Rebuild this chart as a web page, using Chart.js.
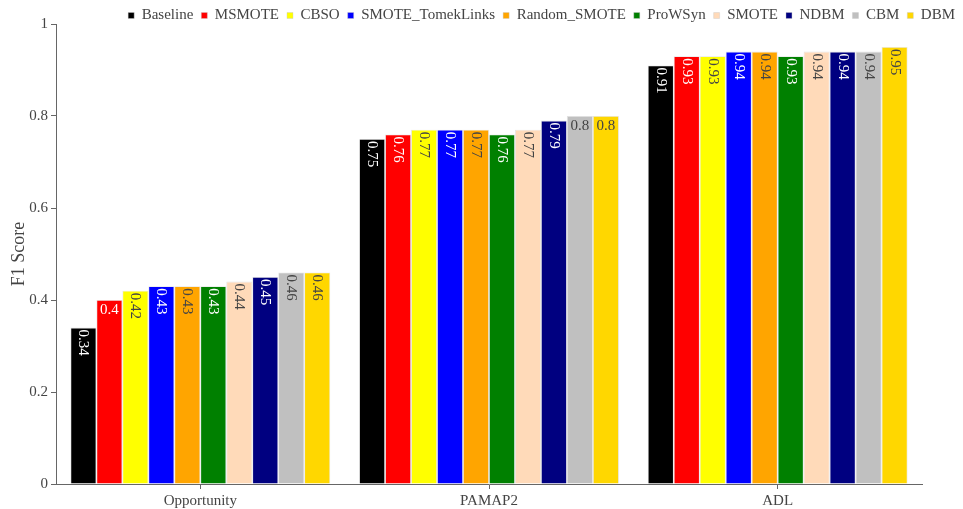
<!DOCTYPE html>
<html>
<head>
<meta charset="utf-8">
<script src="https://cdn.jsdelivr.net/npm/chart.js@4"></script>
<style>
  html, body { margin: 0; padding: 0; background: #fff; }
  #wrap { width: 963px; height: 509px; }
</style>
</head>
<body>
<div id="wrap"><canvas id="myChart"></canvas></div>
<script>
var categorias = ["Opportunity", "PAMAP2", "ADL"]
var metodos = ["Baseline", "MSMOTE", "CBSO", "SMOTE_TomekLinks", "Random_SMOTE", "ProWSyn", "SMOTE", "NDBM", "CBM", "DBM"]
var cores = ["#000000", "#ff0000", "#ffff00", "#0000ff", "#ffa500", "#008000", "#ffdab9", "#000080", "#c0c0c0", "#ffd700"]
var baseline = [0.34, 0.75, 0.91]
var msmote = [0.4, 0.76, 0.93]
var cbso = [0.42, 0.77, 0.93]
var smoteTomek = [0.43, 0.77, 0.94]
var randomSmote = [0.43, 0.77, 0.94]
var prowsyn = [0.43, 0.76, 0.93]
var smote = [0.44, 0.77, 0.94]
var ndbm = [0.45, 0.79, 0.94]
var cbm = [0.46, 0.8, 0.94]
var dbm = [0.46, 0.8, 0.95]
var yTicks = [0, 0.2, 0.4, 0.6, 0.8, 1]

var valores = [baseline, msmote, cbso, smoteTomek, randomSmote, prowsyn, smote, ndbm, cbm, dbm]
// cor do texto dentro da barra (claro em barras escuras)
var corTexto = ["#fff", "#fff", "#444", "#fff", "#444", "#fff", "#444", "#fff", "#444", "#444"]
var fonte = "'Liberation Serif', 'Times New Roman', serif"

var datasets = []
for (var i = 0; i < metodos.length; i++) {
    datasets.push({
        label: metodos[i],
        data: valores[i],
        backgroundColor: cores[i],
        borderColor: "rgba(200,200,200,0.5)",
        borderWidth: 0.8,
        yAxisID: "y"
    })
}

// escreve o valor no topo de cada barra, gira se nao couber
var rotulos = {
    id: "rotulos",
    afterDatasetsDraw(chart) {
        var ctx = chart.ctx
        ctx.save()
        ctx.font = "15px " + fonte
        chart.data.datasets.forEach(function (ds, i) {
            var meta = chart.getDatasetMeta(i)
            meta.data.forEach(function (bar, j) {
                var txt = String(ds.data[j])
                var w = ctx.measureText(txt).width
                ctx.fillStyle = corTexto[i]
                if (w + 4 <= bar.width) {
                    ctx.textAlign = "center"
                    ctx.textBaseline = "top"
                    ctx.fillText(txt, bar.x, bar.y + 3)
                } else {
                    ctx.save()
                    ctx.translate(bar.x, bar.y + 2)
                    ctx.rotate(Math.PI / 2)
                    ctx.textAlign = "left"
                    ctx.textBaseline = "middle"
                    ctx.fillText(txt, 0, 0)
                    ctx.restore()
                }
            })
        })
        ctx.restore()
    }
}

var legendaBaixa = {
    id: "legendaBaixa",
    beforeInit(chart) {
        var fitOrig = chart.legend.fit
        chart.legend.fit = function () {
            fitOrig.bind(chart.legend)()
            this.height = 24
        }
    }
}

new Chart(document.getElementById("myChart"), {
    type: "bar",
    data: { labels: categorias, datasets: datasets },
    plugins: [rotulos, legendaBaixa],
    options: {
        responsive: true,
        maintainAspectRatio: false,
        animation: false,
        layout: { padding: { left: 0, right: 0, top: 0, bottom: 0 } },
        datasets: { bar: { categoryPercentage: 0.9, barPercentage: 1 } },
        plugins: {
            legend: {
                position: "top",
                align: "end",
                labels: {
                    usePointStyle: true,
                    pointStyle: "rect",
                    boxWidth: 6,
                    boxHeight: 6,
                    padding: 8,
                    color: "#444",
                    font: { family: fonte, size: 15, lineHeight: 1 }
                }
            },
            tooltip: { enabled: false }
        },
        scales: {
            x: {
                grid: { display: true, drawOnChartArea: false, offset: false, tickLength: 5, color: "#666" },
                border: { color: "#666" },
                ticks: { color: "#444", padding: 3, font: { family: fonte, size: 15 } },
                afterFit(scale) { scale.height = 25 }
            },
            y: {
                min: 0,
                max: 1,
                afterBuildTicks(scale) { scale.ticks = yTicks.map(function (v) { return { value: v } }) },
                grid: { display: true, drawOnChartArea: false, tickLength: 5, color: "#666" },
                border: { color: "#666" },
                ticks: {
                    color: "#444", padding: 3, font: { family: fonte, size: 15 },
                    callback: function (v) { return String(v) }
                },
                title: { display: true, text: "F1 Score", color: "#444", font: { family: fonte, size: 18 }, padding: { top: 8, bottom: 0 } },
                afterFit(scale) { scale.width = 56 }
            },
            direita: {
                position: "right",
                display: true,
                grid: { display: false },
                border: { display: false },
                ticks: { display: false },
                afterFit(scale) { scale.width = 41 }
            }
        }
    }
})
</script>
</body>
</html>
